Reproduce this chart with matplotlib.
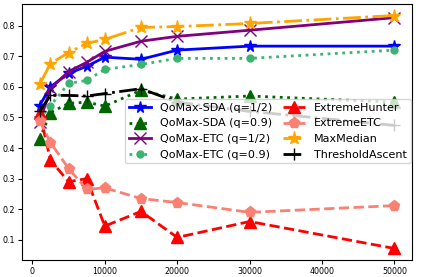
import matplotlib
matplotlib.use("Agg")
import matplotlib.pyplot as plt

x = [1000, 2500, 5000, 7500, 10000, 15000, 20000, 30000, 50000]

sda_half = [0.539, 0.600, 0.644, 0.667, 0.697, 0.690, 0.720, 0.733, 0.733]
sda_09 = [0.430, 0.516, 0.546, 0.550, 0.537, 0.589, 0.560, 0.570, 0.550]
etc_half = [0.484, 0.595, 0.650, 0.680, 0.716, 0.749, 0.765, 0.785, 0.826]
etc_09 = [0.495, 0.539, 0.611, 0.621, 0.657, 0.673, 0.693, 0.693, 0.720]
ext_hunter = [0.515, 0.360, 0.290, 0.300, 0.145, 0.193, 0.108, 0.160, 0.072]
ext_etc = [0.490, 0.418, 0.333, 0.265, 0.270, 0.235, 0.222, 0.190, 0.212]
max_median = [0.608, 0.676, 0.712, 0.742, 0.755, 0.794, 0.797, 0.807, 0.833]
thresh = [0.520, 0.572, 0.572, 0.570, 0.578, 0.594, 0.550, 0.520, 0.474]

labels = ["QoMax-SDA (q=1/2)", "QoMax-SDA (q=0.9)", "QoMax-ETC (q=1/2)",
          "QoMax-ETC (q=0.9)", "ExtremeHunter", "ExtremeETC", "MaxMedian",
          "ThresholdAscent"]

fig = plt.figure(figsize=(4.21, 2.77), dpi=100)
ax = fig.add_axes([0.052, 0.061, 0.927, 0.925])

lw = 2.0
ax.plot(x, sda_half, color="blue", ls="-", marker="*", ms=8.5, lw=lw, label=labels[0])
ax.plot(x, sda_09, color="darkgreen", ls=":", marker="^", ms=8, lw=lw, label=labels[1])
ax.plot(x, etc_half, color="purple", ls="-", marker="x", ms=8, lw=lw, label=labels[2])
ax.plot(x, etc_09, color="mediumseagreen", ls=":", marker="o", ms=5, lw=lw, label=labels[3])
ax.plot(x, ext_hunter, color="red", ls="--", marker="^", ms=9, lw=lw, label=labels[4])
ax.plot(x, ext_etc, color="salmon", ls="--", marker="p", ms=8, lw=lw, label=labels[5])
ax.plot(x, max_median, color="orange", ls="-.", marker="*", ms=9.5, lw=lw, label=labels[6])
ax.plot(x, thresh, color="black", ls="-.", marker="+", ms=9, lw=lw, label=labels[7])

ax.tick_params(labelsize=5.7, length=3, pad=2)
ax.set_yticks([0.1, 0.2, 0.3, 0.4, 0.5, 0.6, 0.7, 0.8])
ax.legend(ncol=2, fontsize=8, loc="upper right", bbox_to_anchor=(1.0, 0.633),
          borderaxespad=0.1, handlelength=2.0, columnspacing=1.0,
          labelspacing=0.5, borderpad=0.35)

fig.savefig("out.png", dpi=100)
